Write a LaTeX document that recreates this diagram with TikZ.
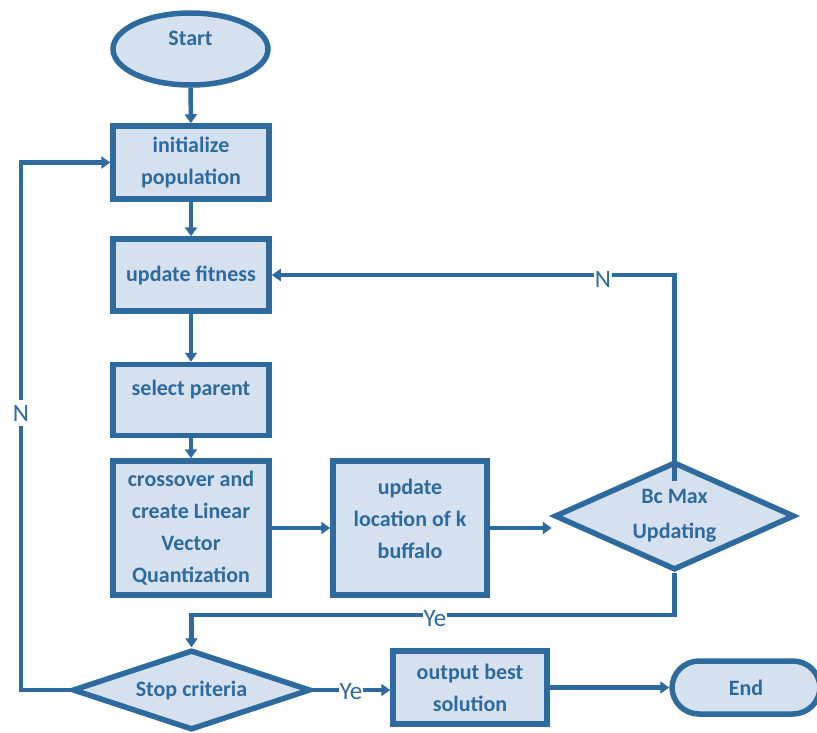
\documentclass[tikz,border=0pt]{standalone}
\usepackage{fontspec}
\setmainfont{Carlito}
\usetikzlibrary{shapes.geometric,arrows.meta}
\definecolor{flowblue}{HTML}{2E6A9E}
\definecolor{flowfill}{HTML}{D6E1F0}
\begin{document}
\begin{tikzpicture}[x=10pt,y=10pt,every text node part/.style={align=center}]
\tikzstyle{every node}+=[inner sep=0pt, text=flowblue, font=\fontsize{22}{32}\selectfont\bfseries]
\tikzstyle{box}=[draw=flowblue, fill=flowfill, line width=5.5pt, minimum width=156pt]
\tikzstyle{decision}=[box, diamond]
\tikzstyle{flow}=[draw=flowblue, line width=4.5pt, -{Triangle[length=9pt,width=12pt]}]
\tikzstyle{answer}=[fill=white, font=\fontsize{25}{30}\selectfont, inner xsep=1pt, inner ysep=5pt]
\useasboundingbox (0,0) rectangle (81.7,-73.2);
% shapes
\node [box, ellipse, minimum width=155pt, minimum height=72pt] (start) at (19.05,-4.9) {};
\node (starttext) at (19.05,-3.8) {Start};
\node [box, minimum height=73pt] (init) at (19.1,-16.25) {initialize\\population};
\node [box, minimum height=72pt] (fit) at (19.1,-27.5) {update fitness};
\node [box, minimum height=71pt] (sel) at (19.1,-40) {};
\node (seltext) at (19.1,-39) {select parent};
\node [box, minimum height=134pt] (cross) at (19.1,-52.8) {crossover and\\create Linear\\Vector\\Quantization};
\node [box, minimum width=154pt, minimum height=134pt] (loc) at (41,-52.8) {};
\node (loctext) at (41,-51.85) {update\\location of k\\buffalo};
\node [decision, aspect=2.2, minimum width=240pt, minimum height=108pt] (bcmax) at (67.45,-51.6) {Bc Max\\[3pt]Updating};
\node [decision, aspect=3, minimum width=238pt, minimum height=80pt] (stop) at (19.15,-69) {Stop criteria};
\node [box, minimum width=154pt, minimum height=73pt] (out) at (47,-68.75) {output best\\solution};
\node [box, rounded corners=27pt, minimum width=148pt, minimum height=53pt] (end) at (74.6,-68.75) {End};
% connectors
\draw [flow] (start) -- (init);
\draw [flow] (init) -- (fit);
\draw [flow] (fit) -- (sel);
\draw [flow] (sel) -- (cross);
\draw [flow] (cross.east) -- (loc.west);
\draw [flow] (loc.east) -- (loc.east -| bcmax.west);
\draw [flow] ([yshift=-22pt]bcmax.north) |- (fit.east);
\draw [flow] (bcmax.south) -- ++(0,-4.2) -| (stop.north);
\draw [flow] (stop.west) -- ++(-4.9,0) |- (init.west);
\draw [flow] (stop.east) -- (stop.east -| out.west);
\draw [flow] (out.east) -- (end.west);
% answers
\node [answer] (nfit) at (60.3,-27.9) {N};
\node [answer] (yesloc) at (43.5,-61.9) {Ye};
\node [answer] (nstop) at (2.1,-41.3) {N};
\node [answer] (yesout) at (35.1,-69.2) {Ye};
\end{tikzpicture}
\end{document}
